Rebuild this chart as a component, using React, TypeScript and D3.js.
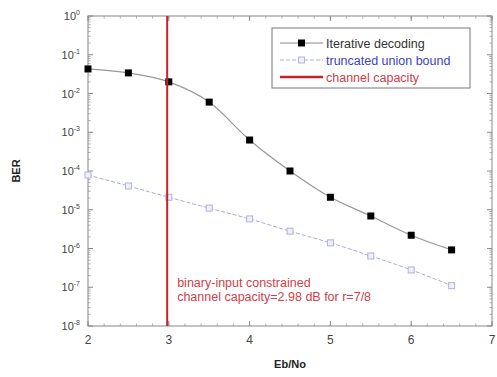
import React from "react";
import * as d3 from "d3";

const ebno = [2, 2.5, 3, 3.5, 4, 4.5, 5, 5.5, 6, 6.5];
const iterative = [4.3e-2, 3.4e-2, 2.0e-2, 6.0e-3, 6.3e-4, 1.0e-4, 2.1e-5, 6.9e-6, 2.2e-6, 9.2e-7];
const unionBound = [7.9e-5, 4.1e-5, 2.1e-5, 1.1e-5, 5.8e-6, 2.8e-6, 1.4e-6, 6.4e-7, 2.8e-7, 1.1e-7];
const capacity = 2.98;
const xTicks = [2, 3, 4, 5, 6, 7];
const yExponents = [0, -1, -2, -3, -4, -5, -6, -7, -8];
const legendLabels = ["Iterative decoding", "truncated union bound", "channel capacity"];
const annotation = ["binary-input constrained", "channel capacity=2.98 dB for r=7/8"];

const W = 497;
const H = 377;
const margin = { left: 88, right: 5, top: 16, bottom: 51 };
const font = "Liberation Sans, Arial, sans-serif";

export default function App() {
  const x = d3.scaleLinear().domain([2, 7]).range([margin.left, W - margin.right]);
  const y = d3.scaleLog().domain([1e-8, 1]).range([H - margin.bottom, margin.top]);
  const [x0, x1] = x.range();
  const [y1, y0] = y.range();

  const line = d3
    .line<number>()
    .x((_, i) => x(ebno[i]))
    .y((d) => y(d))
    .curve(d3.curveMonotoneX);

  const minorY: number[] = [];
  for (let e = -8; e < 0; e++) for (let m = 2; m <= 9; m++) minorY.push(m * Math.pow(10, e));
  const minorX = d3.range(2, 7.001, 0.2);

  return (
    <svg width={W} height={H} style={{ position: "absolute", left: 0, top: 0 }} fontFamily={font}>
      <rect width={W} height={H} fill="#fff" />
      {/* frame */}
      <rect x={x0} y={y0} width={x1 - x0} height={y1 - y0} fill="none" stroke="#888" strokeWidth={1} />
      {/* y ticks */}
      {minorY.map((v, i) => (
        <g key={`my${i}`} stroke="#999" strokeWidth={0.8}>
          <line x1={x0} x2={x0 + 2.5} y1={y(v)} y2={y(v)} />
          <line x1={x1} x2={x1 - 2.5} y1={y(v)} y2={y(v)} />
        </g>
      ))}
      {yExponents.map((e) => (
        <g key={`y${e}`}>
          <line x1={x0} x2={x0 + 5} y1={y(Math.pow(10, e))} y2={y(Math.pow(10, e))} stroke="#888" />
          <line x1={x1} x2={x1 - 5} y1={y(Math.pow(10, e))} y2={y(Math.pow(10, e))} stroke="#888" />
          <text x={x0 - 8} y={y(Math.pow(10, e)) + 4} textAnchor="end" fontSize={11} fill="#444">
            10
            <tspan dy={-5} fontSize={7}>
              {e}
            </tspan>
          </text>
        </g>
      ))}
      {/* x ticks */}
      {minorX.map((v, i) => (
        <g key={`mx${i}`} stroke="#999" strokeWidth={0.8}>
          <line x1={x(v)} x2={x(v)} y1={y1} y2={y1 - 2.5} />
          <line x1={x(v)} x2={x(v)} y1={y0} y2={y0 + 2.5} />
        </g>
      ))}
      {xTicks.map((v) => (
        <g key={`x${v}`}>
          <line x1={x(v)} x2={x(v)} y1={y1} y2={y1 - 5} stroke="#888" />
          <line x1={x(v)} x2={x(v)} y1={y0} y2={y0 + 5} stroke="#888" />
          <text x={x(v)} y={y1 + 18} textAnchor="middle" fontSize={12} fill="#444">
            {v}
          </text>
        </g>
      ))}
      {/* axis titles */}
      <text x={(x0 + x1) / 2} y={H - 9} textAnchor="middle" fontSize={11} fontWeight="bold" fill="#222">
        Eb/No
      </text>
      <text
        transform={`translate(20,${(y0 + y1) / 2}) rotate(-90)`}
        textAnchor="middle"
        fontSize={11}
        fontWeight="bold"
        fill="#222"
      >
        BER
      </text>
      {/* union bound */}
      <path d={line(unionBound) ?? ""} fill="none" stroke="#a8acd8" strokeWidth={1} strokeDasharray="4,2" />
      {unionBound.map((v, i) => (
        <rect key={`u${i}`} x={x(ebno[i]) - 3} y={y(v) - 3} width={6} height={6} fill="#eef" stroke="#b0b4d0" strokeWidth={1} />
      ))}
      {/* iterative decoding */}
      <path d={line(iterative) ?? ""} fill="none" stroke="#999" strokeWidth={1.2} />
      {iterative.map((v, i) => (
        <rect key={`it${i}`} x={x(ebno[i]) - 3.5} y={y(v) - 3.5} width={7} height={7} fill="#000" />
      ))}
      {/* capacity */}
      <line x1={x(capacity)} x2={x(capacity)} y1={y0} y2={y1} stroke="#c8202c" strokeWidth={2} />
      {annotation.map((t, i) => (
        <text key={`a${i}`} x={x(capacity) + 10} y={287 + i * 14} fontSize={12.5} fill="#d0404c">
          {t}
        </text>
      ))}
      {/* legend */}
      <g transform="translate(272,28)">
        <rect width={198} height={60} fill="#fff" stroke="#777" strokeWidth={1} />
        <line x1={8} x2={51} y1={15} y2={15} stroke="#888" strokeWidth={1} />
        <rect x={26} y={11.5} width={7} height={7} fill="#000" />
        <text x={54} y={19.5} fontSize={12.5} fill="#333">
          {legendLabels[0]}
        </text>
        <line x1={8} x2={51} y1={32} y2={32} stroke="#a8acd8" strokeWidth={1} strokeDasharray="4,2" />
        <rect x={26.5} y={29} width={6} height={6} fill="#eef" stroke="#b0b4d0" />
        <text x={54} y={36.5} fontSize={12.5} fill="#3a44c0">
          {legendLabels[1]}
        </text>
        <line x1={8} x2={51} y1={49} y2={49} stroke="#c8202c" strokeWidth={2.5} />
        <text x={54} y={53.5} fontSize={12.5} fill="#d0404c">
          {legendLabels[2]}
        </text>
      </g>
    </svg>
  );
}
